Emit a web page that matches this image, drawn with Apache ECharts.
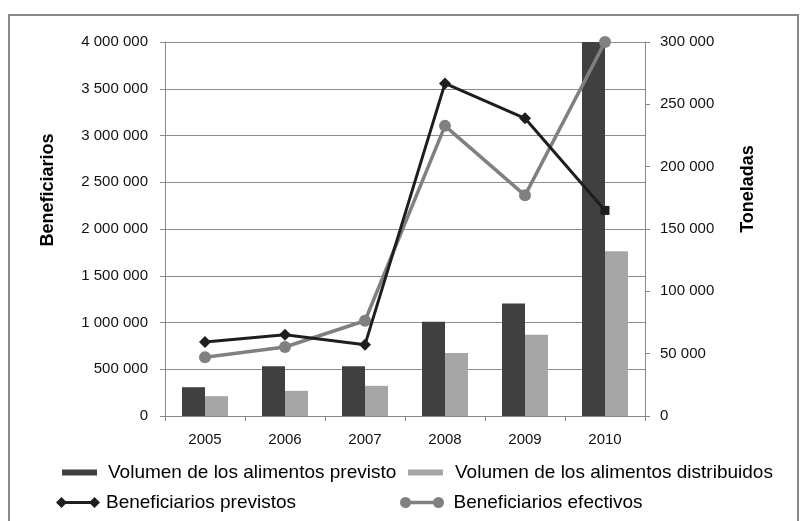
<!DOCTYPE html>
<html>
<head>
<meta charset="utf-8">
<script src="https://cdn.jsdelivr.net/npm/echarts@6/dist/echarts.min.js"></script>
<style>
  html, body { margin: 0; padding: 0; background: #fff; }
  #chart { width: 801px; height: 521px; }
</style>
</head>
<body>
<div id="chart"></div>
<script>
// años
var years = ['2005', '2006', '2007', '2008', '2009', '2010']
// toneladas (eje derecho)
var volPrevisto = [23100, 39900, 39900, 75600, 90300, 320000]
var volDistribuido = [15900, 20200, 24200, 50600, 65200, 132200]
// beneficiarios (eje izquierdo)
var benefPrevistos = [791000, 869000, 763000, 3557000, 3184000, 2199000]
var benefEfectivos = [628000, 738000, 1019000, 3103000, 2360000, 4000000]

var fontFamily = '"Liberation Sans", Arial, sans-serif'

function fmt (v) {
  return String(v).replace(/\B(?=(\d{3})+(?!\d))/g, ' ')
}

var chart = echarts.init(document.getElementById('chart'))

// iconos de leyenda: marcador - línea - marcador
var diamondIcon = 'path://M0,6 L6,0 L12,6 L6,12 Z M6,4.3 H42 V7.7 H6 Z M36,6 L42,0 L48,6 L42,12 Z'
var circleIcon = 'path://M0,6 A6,6 0 1,1 12,6 A6,6 0 1,1 0,6 Z M6,4.2 H42 V7.8 H6 Z M36,6 A6,6 0 1,1 48,6 A6,6 0 1,1 36,6 Z'

var legendText = { fontFamily: fontFamily, fontSize: 19, color: '#000' }

var option = {
  animation: false,
  textStyle: { fontFamily: fontFamily },
  grid: { left: 165, right: 156, top: 42, bottom: 105 },
  legend: [
    {
      data: ['Volumen de los alimentos previsto'],
      left: 62, top: 463, padding: 0,
      itemWidth: 35, itemHeight: 6, icon: 'rect',
      textStyle: Object.assign({ padding: [0, 0, 0, 6] }, legendText)
    },
    {
      data: ['Volumen de los alimentos distribuidos'],
      left: 408, top: 463, padding: 0,
      itemWidth: 35, itemHeight: 6, icon: 'rect',
      textStyle: Object.assign({ padding: [0, 0, 0, 7] }, legendText)
    },
    {
      data: ['Beneficiarios previstos'],
      left: 56, top: 493, padding: 0,
      itemWidth: 46, itemHeight: 11, icon: diamondIcon,
      itemStyle: { borderWidth: 0 },
      textStyle: legendText
    },
    {
      data: ['Beneficiarios efectivos'],
      left: 400, top: 493, padding: 0,
      itemWidth: 47, itemHeight: 11, icon: circleIcon,
      itemStyle: { borderWidth: 0 },
      textStyle: Object.assign({ padding: [0, 0, 0, 3] }, legendText)
    }
  ],
  xAxis: {
    type: 'category',
    data: years,
    axisLine: { lineStyle: { color: '#888', width: 1 } },
    axisTick: { show: true, length: 5, lineStyle: { color: '#888' } },
    axisLabel: { margin: 16, fontSize: 15, color: '#111' }
  },
  yAxis: [
    {
      type: 'value',
      min: 0,
      max: 4000000,
      interval: 500000,
      axisLine: { show: true, lineStyle: { color: '#888' } },
      axisTick: { show: true, length: 5, lineStyle: { color: '#888' } },
      splitLine: { lineStyle: { color: '#8c8c8c', width: 1 } },
      axisLabel: { margin: 17, fontSize: 15, color: '#111', formatter: fmt }
    },
    {
      type: 'value',
      min: 0,
      max: 300000,
      interval: 50000,
      axisLine: { show: true, lineStyle: { color: '#888' } },
      axisTick: { show: true, length: 5, lineStyle: { color: '#888' } },
      splitLine: { show: false },
      axisLabel: { margin: 15, fontSize: 15, color: '#111', formatter: fmt }
    }
  ],
  graphic: [
    {
      type: 'rect',
      shape: { x: 9, y: 15, width: 789, height: 530 },
      style: { fill: 'none', stroke: '#8a8a8a', lineWidth: 2 },
      silent: true
    },
    {
      type: 'text',
      x: 48, y: 190, rotation: Math.PI / 2,
      style: { text: 'Beneficiarios', font: 'bold 18px ' + fontFamily, fill: '#000', align: 'center', verticalAlign: 'middle' }
    },
    {
      type: 'text',
      x: 748, y: 189, rotation: Math.PI / 2,
      style: { text: 'Toneladas', font: 'bold 18px ' + fontFamily, fill: '#000', align: 'center', verticalAlign: 'middle' }
    }
  ],
  series: [
    {
      name: 'Volumen de los alimentos previsto',
      type: 'bar',
      yAxisIndex: 1,
      barWidth: 23,
      barGap: '0%',
      clip: true,
      itemStyle: { color: '#404040' },
      data: volPrevisto
    },
    {
      name: 'Volumen de los alimentos distribuidos',
      type: 'bar',
      yAxisIndex: 1,
      barWidth: 23,
      clip: true,
      itemStyle: { color: '#a6a6a6' },
      data: volDistribuido
    },
    {
      name: 'Beneficiarios previstos',
      type: 'line',
      yAxisIndex: 0,
      z: 5,
      symbol: function (v, p) { return p.dataIndex === 5 ? 'rect' : 'diamond' },
      symbolSize: function (v, p) { return p.dataIndex === 5 ? 9 : 12 },
      lineStyle: { color: '#1e1e1e', width: 3 },
      itemStyle: { color: '#1e1e1e' },
      data: benefPrevistos
    },
    {
      name: 'Beneficiarios efectivos',
      type: 'line',
      yAxisIndex: 0,
      z: 4,
      symbol: 'circle',
      symbolSize: 12,
      lineStyle: { color: '#808080', width: 3.5 },
      itemStyle: { color: '#808080' },
      data: benefEfectivos
    }
  ]
}

chart.setOption(option)
</script>
</body>
</html>
